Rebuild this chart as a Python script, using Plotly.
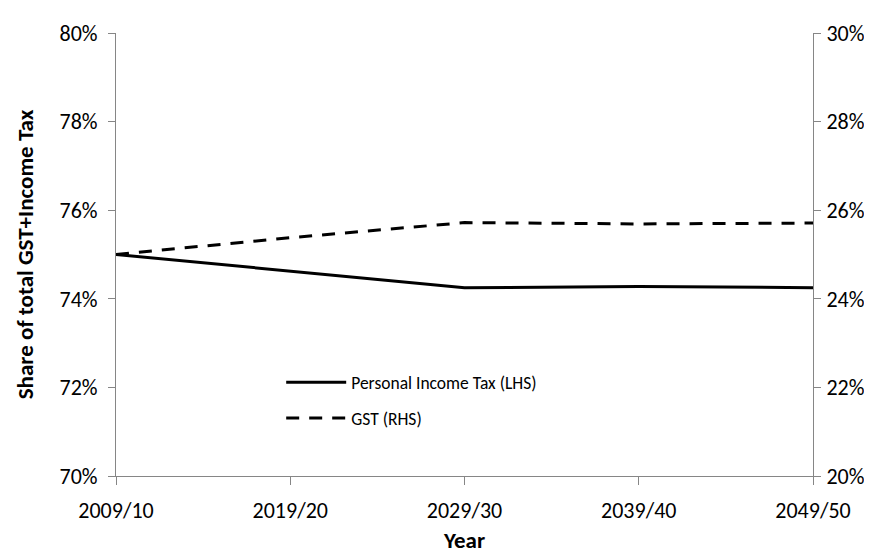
import plotly.graph_objects as go

years = ["2009/10", "2019/20", "2029/30", "2039/40", "2049/50"]
pit_share = [75.0, 74.62, 74.25, 74.28, 74.25]   # Personal Income Tax (LHS), %
gst_share = [25.0, 25.38, 25.72, 25.69, 25.71]   # GST (RHS), %

left_ticks = [70, 72, 74, 76, 78, 80]
right_ticks = [20, 22, 24, 26, 28, 30]

FONT = "Carlito, Lato, 'Open Sans', sans-serif"
AXIS = "#868686"
TICK_FS = 22
TITLE_FS = 23

fig = go.Figure()
fig.add_trace(go.Scatter(
    x=years, y=pit_share, name="Personal Income Tax (LHS)", mode="lines",
    line=dict(color="black", width=3), yaxis="y", legendgroup="a"))
fig.add_trace(go.Scatter(
    x=years, y=gst_share, name="GST (RHS)", mode="lines",
    line=dict(color="black", width=3, dash="13px,10px"), yaxis="y2", legendgroup="b"))

fig.update_layout(
    width=872, height=557,
    margin=dict(l=108, r=67, t=17, b=89),
    paper_bgcolor="white", plot_bgcolor="white",
    font=dict(family=FONT, size=TICK_FS, color="black"),
    showlegend=True,
    legend=dict(x=0.237, y=0.252, xanchor="left", yanchor="top",
                bgcolor="rgba(0,0,0,0)", font=dict(size=17.5),
                traceorder="grouped", tracegroupgap=10, itemwidth=60),
    xaxis=dict(type="category", range=[0, 4], showline=True, linecolor=AXIS, linewidth=1,
               ticks="outside", ticklen=8, tickcolor=AXIS, showgrid=False, zeroline=False,
               tickfont=dict(size=TICK_FS), ticklabelstandoff=7,
               title=dict(text="<b>Year</b>", font=dict(size=TITLE_FS), standoff=8)),
    yaxis=dict(range=[70, 80], tickvals=left_ticks,
               ticktext=[f"{v}%" for v in left_ticks],
               showline=True, linecolor=AXIS, linewidth=1, ticks="outside", ticklen=7,
               tickcolor=AXIS, showgrid=False, zeroline=False, tickfont=dict(size=TICK_FS),
               ticklabelstandoff=6,
               title=dict(text="<b>Share of total GST+Income Tax</b>", font=dict(size=TITLE_FS),
                          standoff=19)),
    yaxis2=dict(range=[20, 30], tickvals=right_ticks,
                ticktext=[f"{v}%" for v in right_ticks],
                overlaying="y", side="right", anchor="x",
                showline=True, linecolor=AXIS, linewidth=1, ticks="outside", ticklen=7,
                tickcolor=AXIS, showgrid=False, zeroline=False, tickfont=dict(size=TICK_FS),
                ticklabelstandoff=1),
)

fig.write_html("out.html")
